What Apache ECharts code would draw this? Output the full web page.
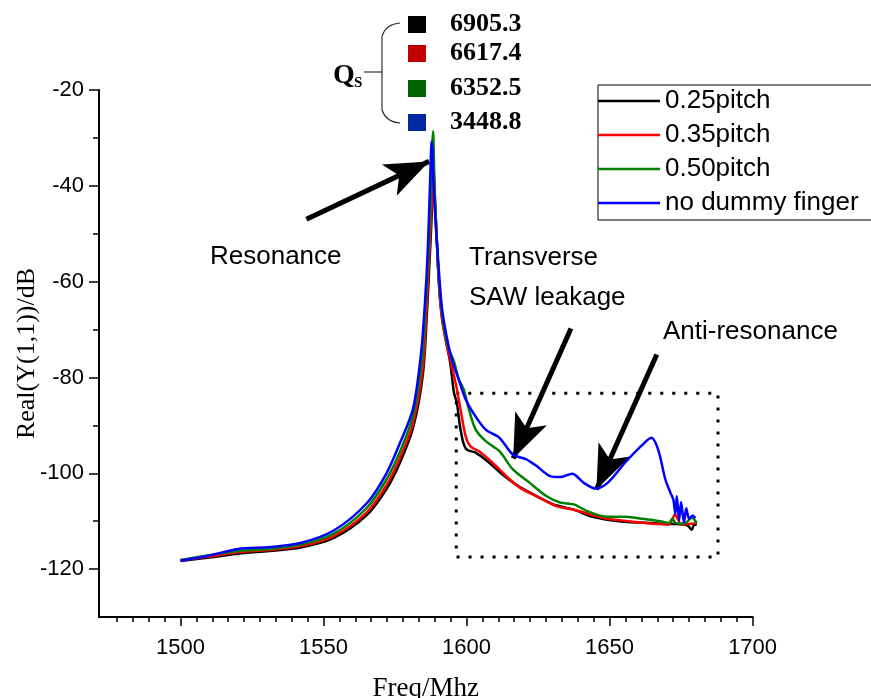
<!DOCTYPE html>
<html>
<head>
<meta charset="utf-8">
<script src="https://cdn.jsdelivr.net/npm/echarts@6.0.0/dist/echarts.min.js"></script>
<style>
  html, body { margin: 0; padding: 0; background: #fff; }
  #chart { width: 871px; height: 698px; }
</style>
</head>
<body>
<div id="chart"></div>
<script>
// 0.25pitch
var freqBlack = [1500, 1510, 1520, 1531, 1542, 1553.6, 1565, 1572, 1576.7, 1581.3, 1584.7, 1586.2, 1587.2, 1587.9, 1588.4, 1588.9, 1589.5, 1590.4, 1591.5, 1593, 1594.3, 1595.6, 1596.6, 1597.7, 1598.9, 1600.2, 1603.2, 1607.9, 1612.7, 1617.4, 1623.3, 1630.4, 1637.5, 1643.4, 1649.3, 1655, 1660, 1665, 1670, 1673, 1676.2, 1677.5, 1678.7, 1679.5, 1680.5];
var realBlack = [-118.3, -117.6, -116.8, -116.2, -115.5, -113.5, -108.8, -103.3, -97.8, -90.5, -79.5, -66, -54, -45, -37, -43, -50, -61, -68, -73, -77, -83.2, -85.3, -90.2, -93.7, -95.1, -95.7, -97.8, -100.3, -102.4, -104.4, -106.5, -107.6, -109.0, -109.7, -110.1, -110.3, -110.4, -110.6, -110.6, -110.7, -111.0, -111.8, -110.8, -110.7];
// 0.35pitch
var freqRed = [1500, 1510, 1520, 1531, 1542, 1553.6, 1565, 1572, 1576.7, 1581.3, 1584.7, 1586, 1587, 1587.8, 1588.4, 1588.9, 1589.5, 1590.4, 1591.5, 1593, 1594.6, 1596.4, 1597.9, 1599.7, 1601.4, 1604.4, 1609.1, 1613.9, 1618.6, 1624.5, 1631.6, 1637.5, 1643.4, 1649.3, 1655, 1660, 1664, 1668, 1670.7, 1671.9, 1672.8, 1674, 1675, 1677.5, 1679.9];
var realRed = [-118.2, -117.4, -116.5, -116.0, -115.2, -113.1, -108.2, -102.5, -96.8, -89.5, -78, -66, -54, -44, -35.5, -42, -50, -61, -68, -73, -77, -81.8, -86.7, -92.3, -94.4, -95.4, -97.8, -100.6, -103.0, -104.8, -106.9, -107.6, -108.6, -109.5, -109.9, -110.2, -110.5, -110.6, -110.7, -109.7, -108.6, -109.7, -110.7, -110.6, -110.5];
// 0.50pitch
var freqGreen = [1500, 1510, 1520, 1531, 1542, 1553.6, 1565, 1572, 1576.7, 1581.3, 1584.5, 1585.8, 1586.8, 1587.6, 1588.3, 1588.8, 1589.5, 1590.4, 1591.8, 1593.5, 1595.5, 1597.3, 1599, 1600.8, 1603.2, 1606.7, 1611.5, 1616.2, 1622.1, 1628, 1632.7, 1637.5, 1642.2, 1648.1, 1655.4, 1661.5, 1667.6, 1670.7, 1671.9, 1673.2, 1676.2, 1678.7, 1680.5];
var realGreen = [-118.1, -117.1, -116.2, -115.8, -114.9, -112.6, -107.3, -101.3, -95.5, -88, -76, -64, -53, -40, -28.6, -40, -50, -60, -68, -73.5, -76.5, -80.4, -82.5, -86.6, -90.9, -93.3, -95.4, -99.2, -102.0, -104.8, -106.1, -106.5, -107.9, -109.0, -109.1, -109.5, -110.0, -110.4, -109.5, -110.4, -110.5, -109.3, -110.4];
// no dummy finger
var freqBlue = [1500, 1509, 1520.2, 1531.3, 1542.3, 1553.7, 1565.2, 1572.1, 1576.7, 1581.3, 1584.1, 1585.5, 1586.4, 1587.2, 1587.8, 1588.5, 1589.3, 1589.9, 1590.6, 1591.6, 1594.5, 1597.3, 1599.7, 1603, 1606.7, 1611.5, 1616.2, 1620.9, 1624.5, 1629.2, 1632.7, 1636.9, 1641, 1645.2, 1649.3, 1655.4, 1660.9, 1664.6, 1667, 1669.5, 1671.3, 1672.3, 1673, 1673.5, 1674.3, 1675, 1676, 1676.8, 1677.8, 1679, 1680];
var realBlue = [-118.2, -117.3, -115.8, -115.4, -114.5, -111.9, -106.2, -99.9, -93.7, -86.5, -74.9, -64, -53.9, -40.1, -30.7, -40, -49, -54, -60, -66.5, -75.5, -80.5, -84.6, -88, -90.9, -92.6, -96.1, -97.1, -98.5, -100.6, -100.8, -100.1, -102.0, -103.2, -102.0, -97.8, -94.4, -92.6, -95.1, -101.3, -104.1, -105.5, -108.5, -104.8, -109.8, -106.0, -110.3, -107.3, -109.5, -108.8, -109.4];

var seriesNames = ['0.25pitch', '0.35pitch', '0.50pitch', 'no dummy finger'];
var seriesColors = ['#000000', '#ff0000', '#008000', '#0000ff'];
var qValues = ['6905.3', '6617.4', '6352.5', '3448.8'];
var qColors = ['#000000', '#c00000', '#006400', '#0028a0'];

var xTicks = [1500, 1550, 1600, 1650, 1700];
var yTicks = [-120, -100, -80, -60, -40, -20];
var yMinorTicks = [-110, -90, -70, -50, -30];

// arrows [x1, y1, x2, y2] and dotted box, in data units
var arrowResonance = [1544, -47.0, 1586.9, -34.9];
var arrowTransverse = [1636.5, -69.8, 1616.3, -96.9];
var arrowAnti = [1666.5, -75.2, 1645.4, -103.4];
var boxArea = [1596.4, -83.3, 1687.9, -117.5];

function zip(xs, ys) {
    var out = [];
    for (var i = 0; i < xs.length; i++) out.push([xs[i], ys[i]]);
    return out;
}

var xMinor = [];
for (var t = 0; t < xTicks.length - 1; t++) {
    for (var k = 1; k < 9; k++) xMinor.push(xTicks[t] + k * 50 / 9);
}
for (var k2 = 1; k2 < 5; k2++) xMinor.push(1500 - k2 * 50 / 9);

var freqs = [freqBlack, freqRed, freqGreen, freqBlue];
var reals = [realBlack, realRed, realGreen, realBlue];

var series = seriesNames.map(function (name, i) {
    return {
        name: name,
        type: 'line',
        data: zip(freqs[i], reals[i]),
        showSymbol: false,
        symbol: 'none',
        smooth: 0.3,
        lineStyle: { color: seriesColors[i], width: 2.5 },
        itemStyle: { color: seriesColors[i] },
        z: 2 + i
    };
});

function arrowLine(a) {
    return [{ coord: [a[0], a[1]] }, { coord: [a[2], a[3]] }];
}

series.push({
    name: 'annot',
    type: 'line',
    data: [],
    symbol: 'none',
    z: 10,
    markLine: {
        silent: true,
        animation: false,
        symbol: ['none', 'arrow'],
        symbolSize: [26, 44],
        label: { show: false },
        lineStyle: { color: '#000', width: 5, type: 'solid' },
        data: [arrowLine(arrowResonance), arrowLine(arrowTransverse), arrowLine(arrowAnti)]
    },
    markArea: {
        silent: true,
        itemStyle: {
            color: 'rgba(0,0,0,0)',
            borderColor: '#000',
            borderWidth: 3,
            borderType: [3, 9]
        },
        data: [[{ coord: [boxArea[0], boxArea[1]] }, { coord: [boxArea[2], boxArea[3]] }]]
    }
});

var graphics = [];
qValues.forEach(function (v, i) {
    var cy = [24.5, 53.5, 88.5, 122.5][i];
    graphics.push({
        type: 'rect', shape: { x: 408, y: cy - 8.5, width: 18, height: 17 },
        style: { fill: qColors[i] }
    });
    graphics.push({
        type: 'text', x: 450, y: cy,
        style: { text: v, font: 'bold 26px "Liberation Serif"', fill: '#000', verticalAlign: 'middle' }
    });
});
// brace
graphics.push({ type: 'bezierCurve', shape: { x1: 400, y1: 23, cpx1: 386, cpy1: 24, x2: 382, y2: 36 }, style: { stroke: '#333', lineWidth: 1.2, fill: null } });
graphics.push({ type: 'line', shape: { x1: 382, y1: 36, x2: 382, y2: 110 }, style: { stroke: '#333', lineWidth: 1.2 } });
graphics.push({ type: 'bezierCurve', shape: { x1: 382, y1: 110, cpx1: 386, cpy1: 122, x2: 400, y2: 123 }, style: { stroke: '#333', lineWidth: 1.2, fill: null } });
graphics.push({ type: 'line', shape: { x1: 364, y1: 72, x2: 382, y2: 72 }, style: { stroke: '#333', lineWidth: 1.2 } });
graphics.push({ type: 'text', x: 333, y: 76, style: { text: 'Q', font: 'bold 28px "Liberation Serif"', fill: '#000', verticalAlign: 'middle' } });
graphics.push({ type: 'text', x: 354, y: 83, style: { text: 'S', font: 'bold 15px "Liberation Serif"', fill: '#000', verticalAlign: 'middle' } });
// annotations
var notes = [['Resonance', 210, 257], ['Transverse', 469, 258], ['SAW leakage', 469, 298], ['Anti-resonance', 663, 332]];
notes.forEach(function (n) {
    graphics.push({
        type: 'text', x: n[1], y: n[2], z: 20,
        style: { text: n[0], font: '26px "Liberation Sans"', fill: '#000', verticalAlign: 'middle' }
    });
});

var myChart = echarts.init(document.getElementById('chart'));
myChart.setOption({
    animation: false,
    backgroundColor: '#fff',
    grid: { left: 99, top: 90, right: 118.4, bottom: 81, containLabel: false, outerBoundsMode: 'none' },
    legend: {
        data: seriesNames,
        orient: 'vertical',
        left: 598,
        top: 85,
        icon: 'rect',
        itemWidth: 62,
        itemHeight: 2.5,
        itemGap: 8,
        borderColor: '#000',
        borderWidth: 1,
        padding: [3, 30, 4, 0],
        textStyle: { fontFamily: 'Liberation Sans', fontSize: 26, color: '#000' }
    },
    xAxis: [{
        type: 'value',
        min: 1471.5,
        max: 1700,
        name: 'Freq/Mhz',
        nameLocation: 'middle',
        nameGap: 58,
        nameMoveOverlap: false,
        nameTextStyle: { fontFamily: 'Liberation Serif', fontSize: 27, color: '#000' },
        axisLine: { lineStyle: { color: '#000', width: 2 } },
        axisTick: { customValues: xTicks, length: 9, lineStyle: { color: '#000', width: 1.5 } },
        axisLabel: {
            customValues: xTicks, margin: 20, fontFamily: 'Liberation Sans', fontSize: 22, color: '#000',
            formatter: function (v) { return String(v); }
        },
        splitLine: { show: false }
    }, {
        type: 'value',
        min: 1471.5,
        max: 1700,
        position: 'bottom',
        axisLine: { show: false },
        axisTick: { customValues: xMinor, length: 5, lineStyle: { color: '#000', width: 1.5 } },
        axisLabel: { show: false },
        splitLine: { show: false }
    }],
    yAxis: [{
        type: 'value',
        min: -130,
        max: -20,
        name: 'Real(Y(1,1))/dB',
        nameLocation: 'middle',
        nameGap: 59,
        nameMoveOverlap: false,
        nameTextStyle: { fontFamily: 'Liberation Serif', fontSize: 26, color: '#000' },
        axisLine: { show: true, lineStyle: { color: '#000', width: 2 } },
        axisTick: { show: true, customValues: yTicks, length: 10, lineStyle: { color: '#000', width: 1.5 } },
        axisLabel: {
            customValues: yTicks, margin: 15, fontFamily: 'Liberation Sans', fontSize: 22, color: '#000',
            formatter: function (v) { return String(v); }
        },
        splitLine: { show: false }
    }, {
        type: 'value',
        min: -130,
        max: -20,
        position: 'left',
        axisLine: { show: false },
        axisTick: { show: true, customValues: yMinorTicks, length: 6, lineStyle: { color: '#000', width: 1.5 } },
        axisLabel: { show: false },
        splitLine: { show: false }
    }],
    series: series,
    graphic: graphics
});
</script>
</body>
</html>
